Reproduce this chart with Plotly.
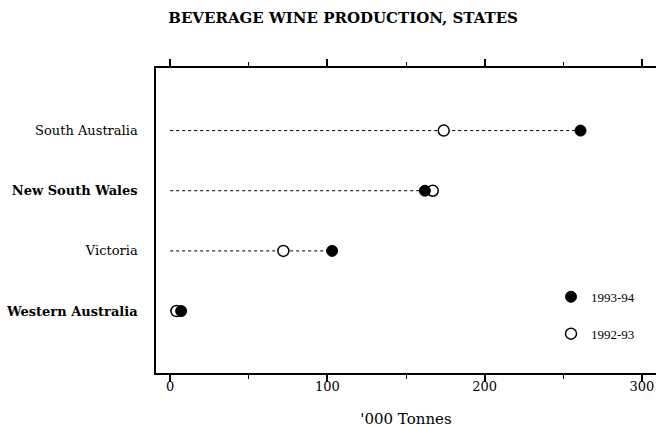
import plotly.graph_objects as go

states = ["South Australia", "New South Wales", "Victoria", "Western Australia"]
state_labels = ["South Australia", "<b>New South Wales</b>", "Victoria", "<b>Western Australia</b>"]
prod_1993_94 = [261, 162, 103, 7]
prod_1992_93 = [174, 167, 72, 4]
x_ticks = [0, 100, 200, 300]

SERIF = "Liberation Serif, Times New Roman, serif"
WIDE = "DejaVu Serif, serif"

fig = go.Figure()

# dotted guide lines from 0 to the larger value of each state
lx, ly = [], []
for s, a, b in zip(states, prod_1993_94, prod_1992_93):
    lx += [0, max(a, b), None]
    ly += [s, s, None]
fig.add_trace(go.Scatter(x=lx, y=ly, mode="lines",
                         line=dict(color="black", width=1, dash="dot"),
                         showlegend=False, hoverinfo="skip"))

fig.add_trace(go.Scatter(x=prod_1992_93, y=states, mode="markers", name="1992-93",
                         legendgroup="b", legendrank=2,
                         marker=dict(symbol="circle", size=11, color="white",
                                     line=dict(color="black", width=1.5))))
fig.add_trace(go.Scatter(x=prod_1993_94, y=states, mode="markers", name="1993-94",
                         legendgroup="a", legendrank=1,
                         marker=dict(symbol="circle", size=11, color="black",
                                     line=dict(color="black", width=1))))

fig.update_layout(
    width=656, height=428,
    margin=dict(l=156, r=0, t=68, b=55),
    paper_bgcolor="white", plot_bgcolor="white",
    font=dict(family=WIDE, size=13, color="black"),
    title=dict(text="<b>BEVERAGE WINE PRODUCTION, STATES</b>",
               x=0.523, xanchor="center", xref="container",
               y=0.958, yanchor="middle", yref="container",
               font=dict(family=WIDE, size=15, color="black")),
    legend=dict(x=0.79, y=0.299, xanchor="left", yanchor="top",
                bgcolor="rgba(0,0,0,0)", font=dict(family=SERIF, size=13),
                traceorder="grouped", tracegroupgap=17, itemwidth=30),
)

fig.update_xaxes(range=[-9, 309], tickvals=x_ticks, ticktext=[str(v) for v in x_ticks],
                 automargin=False,
                 showgrid=False, zeroline=False,
                 showline=True, linecolor="black", linewidth=1.5, mirror="ticks",
                 ticks="outside", ticklen=7, tickwidth=1.5, tickcolor="black",
                 ticklabelstandoff=-6,
                 minor=dict(tickvals=[50, 150, 250], ticks="outside", ticklen=4,
                            tickcolor="black", tickwidth=1),
                 title=dict(text="'000 Tonnes", standoff=21,
                            font=dict(family=WIDE, size=15)),
                 tickfont=dict(family=WIDE, size=13))

fig.update_yaxes(categoryorder="array", categoryarray=states[::-1],
                 tickvals=states, ticktext=state_labels,
                 automargin=False,
                 range=[-1.03, 4.04],
                 showgrid=False, zeroline=False,
                 showline=True, linecolor="black", linewidth=1.5,
                 ticks="", ticklabelstandoff=14,
                 tickfont=dict(family=WIDE, size=13))

fig.write_html("out.html", config={"displayModeBar": False},
               post_script="document.body.style.margin='0';")
